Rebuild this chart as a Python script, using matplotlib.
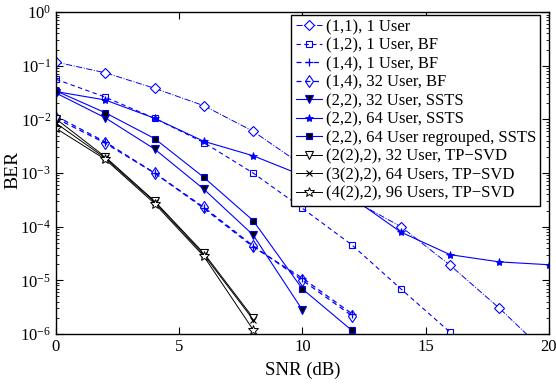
import matplotlib.pyplot as plt
import numpy as np

plt.rcParams['font.family'] = ['Liberation Serif', 'DejaVu Serif']
plt.rcParams['mathtext.fontset'] = 'stix'

snr = [0, 2, 4, 6, 8, 10, 12, 14, 16, 18, 20]

# BER curves
ber_11_1u = [0.117, 0.074, 0.038, 0.018, 0.006, 1.4e-3, 3.2e-4, 1.0e-4, 1.9e-5, 3.0e-6, 4.0e-7]
ber_12_1u_bf = [0.056, 0.026, 0.0105, 0.0037, 1.0e-3, 2.2e-4, 4.6e-5, 6.9e-6, 1.07e-6]
ber_14_1u_bf = [0.0115, 0.0038, 1.0e-3, 2.2e-4, 4.2e-5, 1.1e-5, 2.4e-6]
ber_14_32u_bf = [0.0105, 0.0036, 1.0e-3, 2.3e-4, 4.4e-5, 1.0e-5, 2.2e-6]
ber_22_32u = [0.031, 0.0107, 0.0028, 5.0e-4, 7.0e-5, 2.8e-6]
ber_22_64u = [0.033, 0.023, 0.0105, 0.0039, 2.1e-3, 9.0e-4, 3.5e-4, 7.9e-5, 3.0e-5, 2.2e-5, 1.95e-5]
ber_22_64u_rg = [0.034, 0.0133, 0.0044, 8.3e-4, 1.3e-4, 6.9e-6, 1.17e-6]
ber_tp_32u = [0.0102, 0.0020, 3.0e-4, 3.2e-5, 2.0e-6]
ber_tp_64u = [0.0085, 0.0019, 2.9e-4, 3.0e-5, 1.85e-6]
ber_tp_96u = [0.0068, 0.0018, 2.7e-4, 2.8e-5, 1.2e-6]

labels = ["(1,1), 1 User", "(1,2), 1 User, BF", "(1,4), 1 User, BF", "(1,4), 32 User, BF",
          "(2,2), 32 User, SSTS", "(2,2), 64 User, SSTS", "(2,2), 64 User regrouped, SSTS",
          "(2(2),2), 32 User, TP\u2212SVD", "(3(2),2), 64 Users, TP\u2212SVD",
          "(4(2),2), 96 Users, TP\u2212SVD"]

blue = '#0000ff'
fig = plt.figure(figsize=(5.56, 3.91), dpi=100)
ax = fig.add_axes([0.1007, 0.146, 0.8863, 0.823])

def s(y):
    return snr[:len(y)]

ax.semilogy(s(ber_11_1u), ber_11_1u, color=blue, ls='-.', lw=0.7, marker='D', ms=5.5,
            mfc='white', mec=blue, mew=0.8, label=labels[0])
ax.semilogy(s(ber_12_1u_bf), ber_12_1u_bf, color=blue, ls=(0, (4, 3)), lw=0.8, marker='s', ms=5,
            mfc='none', mec=blue, mew=0.8, label=labels[1])
ax.semilogy(s(ber_14_1u_bf), ber_14_1u_bf, color=blue, ls=(0, (4, 3)), lw=0.9, marker='+', ms=6,
            mec=blue, mew=0.9, label=labels[2])
ax.semilogy(s(ber_14_32u_bf), ber_14_32u_bf, color=blue, ls=(0, (4, 3)), lw=0.9, marker='d', ms=6,
            mfc='none', mec=blue, mew=0.8, label=labels[3])
ax.semilogy(s(ber_22_32u), ber_22_32u, color=blue, ls='-', lw=0.8, marker='v', ms=6,
            mfc='black', mec=blue, mew=0.8, label=labels[4])
ax.semilogy(s(ber_22_64u), ber_22_64u, color=blue, ls='-', lw=0.8, marker='*', ms=6,
            mfc=blue, mec=blue, mew=0.6, label=labels[5])
ax.semilogy(s(ber_22_64u_rg), ber_22_64u_rg, color=blue, ls='-', lw=0.8, marker='s', ms=5,
            mfc='black', mec=blue, mew=0.8, label=labels[6])
ax.semilogy(s(ber_tp_32u), ber_tp_32u, color='black', ls='-', lw=0.7, marker='v', ms=6,
            mfc='white', mec='black', mew=0.8, label=labels[7])
ax.semilogy(s(ber_tp_64u), ber_tp_64u, color='black', ls='-', lw=0.7, marker='x', ms=5,
            mec='black', mew=0.8, label=labels[8])
ax.semilogy(s(ber_tp_96u), ber_tp_96u, color='black', ls='-', lw=0.7, marker='*', ms=7,
            mfc='white', mec='black', mew=0.7, label=labels[9])

ax.set_xlim(0, 20)
ax.set_ylim(1e-6, 1)
ax.set_xticks([0, 5, 10, 15, 20])
ax.set_xlabel('SNR (dB)', fontsize=13.5, labelpad=5)
ax.set_ylabel('BER', fontsize=14)
ax.yaxis.set_label_coords(-0.07, 0.51)
ax.tick_params(which='both', direction='in', top=True, right=True, labelsize=12)
ax.tick_params(which='major', length=5)
ax.tick_params(which='minor', length=2.5)
for sp in ax.spines.values():
    sp.set_linewidth(1.0)

leg = ax.legend(loc='upper right', bbox_to_anchor=(540 / 556, 1 - 15 / 391),
                bbox_transform=fig.transFigure, borderaxespad=0,
                fontsize=12, handlelength=1.6, handletextpad=0.2,
                labelspacing=0.15, borderpad=0.25, fancybox=False, framealpha=1,
                edgecolor='black')
leg.get_frame().set_linewidth(1.0)

plt.savefig('out.png', dpi=100)
